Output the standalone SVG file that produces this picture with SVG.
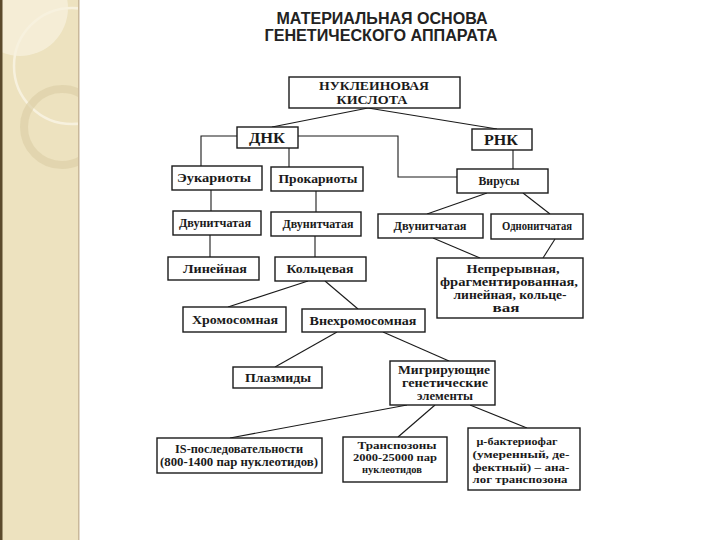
<svg xmlns="http://www.w3.org/2000/svg" width="720" height="540" viewBox="0 0 720 540">
<style>
.box{fill:#fff;stroke:#1a1a1a;stroke-width:1.4}
.t{font-family:"Liberation Serif","Times New Roman",serif;font-weight:bold;font-size:13px;fill:#1a1a1a;text-anchor:middle}
.s{font-size:11.5px}
.m{font-size:11.5px}
.n{font-size:11px}
.big{font-size:15px}
.title{font-family:"Liberation Sans",Arial,sans-serif;font-weight:bold;font-size:16px;fill:#222;text-anchor:middle}
.c{fill:none;stroke:#1a1a1a;stroke-width:1.1}
</style>
<defs>
<clipPath id="panel"><rect x="0" y="0" width="79" height="540"/></clipPath>
</defs>
<rect x="0" y="0" width="720" height="540" fill="#fff"/>
<g id="sidebar">
<rect x="0" y="0" width="79" height="540" fill="#ede2bf"/>
<g clip-path="url(#panel)">
<circle cx="20" cy="8" r="48" fill="#f6f0dc" opacity="0.8"/>
<circle cx="72" cy="66" r="58" fill="none" stroke="#f7f1de" stroke-width="2.5"/>
<circle cx="62" cy="127" r="38" fill="none" stroke="#ddd0a8" stroke-width="8" opacity="0.7"/>
</g>
<rect x="0" y="0" width="2.5" height="540" fill="#5b4a2c"/>
<rect x="78" y="0" width="1.5" height="540" fill="#c9b89a"/>
</g>
<g id="title">
<text class="title" x="382" y="24" textLength="211" lengthAdjust="spacingAndGlyphs">МАТЕРИАЛЬНАЯ ОСНОВА</text>
<text class="title" x="381" y="41" textLength="233" lengthAdjust="spacingAndGlyphs">ГЕНЕТИЧЕСКОГО АППАРАТА</text>
</g>
<g id="connectors">
<polyline class="c" points="368,108 272,127"/>
<polyline class="c" points="368,108 497,129"/>
<polyline class="c" points="237,136 201,136 201,166"/>
<polyline class="c" points="289,148 289,167"/>
<polyline class="c" points="298,136 398,136 398,177 457,177"/>
<polyline class="c" points="513,150 513,169"/>
<polyline class="c" points="211,190 211,211"/>
<polyline class="c" points="316,191 316,212"/>
<polyline class="c" points="487,193 427,214"/>
<polyline class="c" points="523,193 550,214"/>
<polyline class="c" points="210,235 210,257"/>
<polyline class="c" points="315,236 315,257"/>
<polyline class="c" points="433,238 480,258"/>
<polyline class="c" points="555,239 543,258"/>
<polyline class="c" points="308,281 228,307"/>
<polyline class="c" points="325,281 358,309"/>
<polyline class="c" points="337,332 275,367"/>
<polyline class="c" points="383,332 449,361"/>
<polyline class="c" points="407,405 230,438"/>
<polyline class="c" points="435,405 398,437"/>
<polyline class="c" points="470,405 527,428"/>
</g>
<g id="n-nucleic">
<rect class="box" x="289" y="77" width="171" height="31"/>
<text class="t" x="374" y="89.5" textLength="110" lengthAdjust="spacingAndGlyphs" style="font-size:12.5px">НУКЛЕИНОВАЯ</text>
<text class="t" x="372" y="104" textLength="71" lengthAdjust="spacingAndGlyphs" style="font-size:12.5px">КИСЛОТА</text>
</g>
<g id="n-dnk">
<rect class="box" x="237" y="127" width="61" height="21"/>
<text class="t big" x="267" y="143" textLength="36" lengthAdjust="spacingAndGlyphs">ДНК</text>
</g>
<g id="n-rnk">
<rect class="box" x="472" y="129" width="60" height="21"/>
<text class="t big" x="501" y="145" textLength="34" lengthAdjust="spacingAndGlyphs">РНК</text>
</g>
<g id="n-eukaryotes">
<rect class="box" x="172" y="166" width="90" height="24"/>
<text class="t" x="214" y="182" textLength="74" lengthAdjust="spacingAndGlyphs">Эукариоты</text>
</g>
<g id="n-prokaryotes">
<rect class="box" x="271" y="167" width="92" height="24"/>
<text class="t" x="318" y="183" textLength="79" lengthAdjust="spacingAndGlyphs">Прокариоты</text>
</g>
<g id="n-viruses">
<rect class="box" x="457" y="169" width="91" height="24"/>
<text class="t" x="499" y="185" textLength="41" lengthAdjust="spacingAndGlyphs">Вирусы</text>
</g>
<g id="n-ds1">
<rect class="box" x="173" y="211" width="88" height="24"/>
<text class="t s" x="215" y="227" textLength="72" lengthAdjust="spacingAndGlyphs">Двунитчатая</text>
</g>
<g id="n-ds2">
<rect class="box" x="271" y="212" width="90" height="24"/>
<text class="t s" x="318" y="228" textLength="71" lengthAdjust="spacingAndGlyphs">Двунитчатая</text>
</g>
<g id="n-ds3">
<rect class="box" x="378" y="214" width="105" height="24"/>
<text class="t s" x="430" y="230" textLength="73" lengthAdjust="spacingAndGlyphs">Двунитчатая</text>
</g>
<g id="n-ss">
<rect class="box" x="491" y="214" width="92" height="25"/>
<text class="t s" x="537" y="230" textLength="70" lengthAdjust="spacingAndGlyphs">Однонитчатая</text>
</g>
<g id="n-linear">
<rect class="box" x="168" y="257" width="91" height="23"/>
<text class="t" x="215" y="273" textLength="64" lengthAdjust="spacingAndGlyphs">Линейная</text>
</g>
<g id="n-circular">
<rect class="box" x="275" y="257" width="91" height="24"/>
<text class="t" x="320" y="273" textLength="67" lengthAdjust="spacingAndGlyphs">Кольцевая</text>
</g>
<g id="n-viral-genome">
<rect class="box" x="437" y="258" width="146" height="60"/>
<text class="t m" x="513" y="273" textLength="93" lengthAdjust="spacingAndGlyphs">Непрерывная,</text>
<text class="t m" x="509" y="286" textLength="138" lengthAdjust="spacingAndGlyphs">фрагментированная,</text>
<text class="t m" x="510" y="299" textLength="113" lengthAdjust="spacingAndGlyphs">линейная, кольце-</text>
<text class="t m" x="506" y="312" textLength="27" lengthAdjust="spacingAndGlyphs">вая</text>
</g>
<g id="n-chromosomal">
<rect class="box" x="183" y="307" width="103" height="25"/>
<text class="t" x="235" y="324" textLength="86" lengthAdjust="spacingAndGlyphs">Хромосомная</text>
</g>
<g id="n-extrachromosomal">
<rect class="box" x="302" y="309" width="123" height="23"/>
<text class="t" x="363" y="325" textLength="107" lengthAdjust="spacingAndGlyphs">Внехромосомная</text>
</g>
<g id="n-plasmids">
<rect class="box" x="233" y="367" width="89" height="21"/>
<text class="t" x="278" y="382" textLength="66" lengthAdjust="spacingAndGlyphs">Плазмиды</text>
</g>
<g id="n-mobile">
<rect class="box" x="390" y="361" width="105" height="44"/>
<text class="t m" x="444" y="374" textLength="92" lengthAdjust="spacingAndGlyphs">Мигрирующие</text>
<text class="t m" x="445" y="387" textLength="86" lengthAdjust="spacingAndGlyphs">генетические</text>
<text class="t m" x="445" y="400" textLength="56" lengthAdjust="spacingAndGlyphs">элементы</text>
</g>
<g id="n-is">
<rect class="box" x="157" y="438" width="165" height="35"/>
<text class="t m" x="239" y="453" textLength="128" lengthAdjust="spacingAndGlyphs">IS-последовательности</text>
<text class="t m" x="239" y="466" textLength="158" lengthAdjust="spacingAndGlyphs">(800-1400 пар нуклеотидов)</text>
</g>
<g id="n-transposons">
<rect class="box" x="343" y="437" width="104" height="45"/>
<text class="t n" x="397" y="449" textLength="79" lengthAdjust="spacingAndGlyphs">Транспозоны</text>
<text class="t n" x="395" y="461" textLength="84" lengthAdjust="spacingAndGlyphs">2000-25000 пар</text>
<text class="t n" x="392" y="473" textLength="60" lengthAdjust="spacingAndGlyphs">нуклеотидов</text>
</g>
<g id="n-mu">
<rect class="box" x="468" y="428" width="112" height="62"/>
<text class="t n" x="517" y="445" textLength="81" lengthAdjust="spacingAndGlyphs">μ-бактериофаг</text>
<text class="t n" x="521" y="458" textLength="97" lengthAdjust="spacingAndGlyphs">(умеренный, де-</text>
<text class="t n" x="521" y="470.5" textLength="97" lengthAdjust="spacingAndGlyphs">фектный) – ана-</text>
<text class="t n" x="520" y="483" textLength="95" lengthAdjust="spacingAndGlyphs">лог транспозона</text>
</g>
</svg>
